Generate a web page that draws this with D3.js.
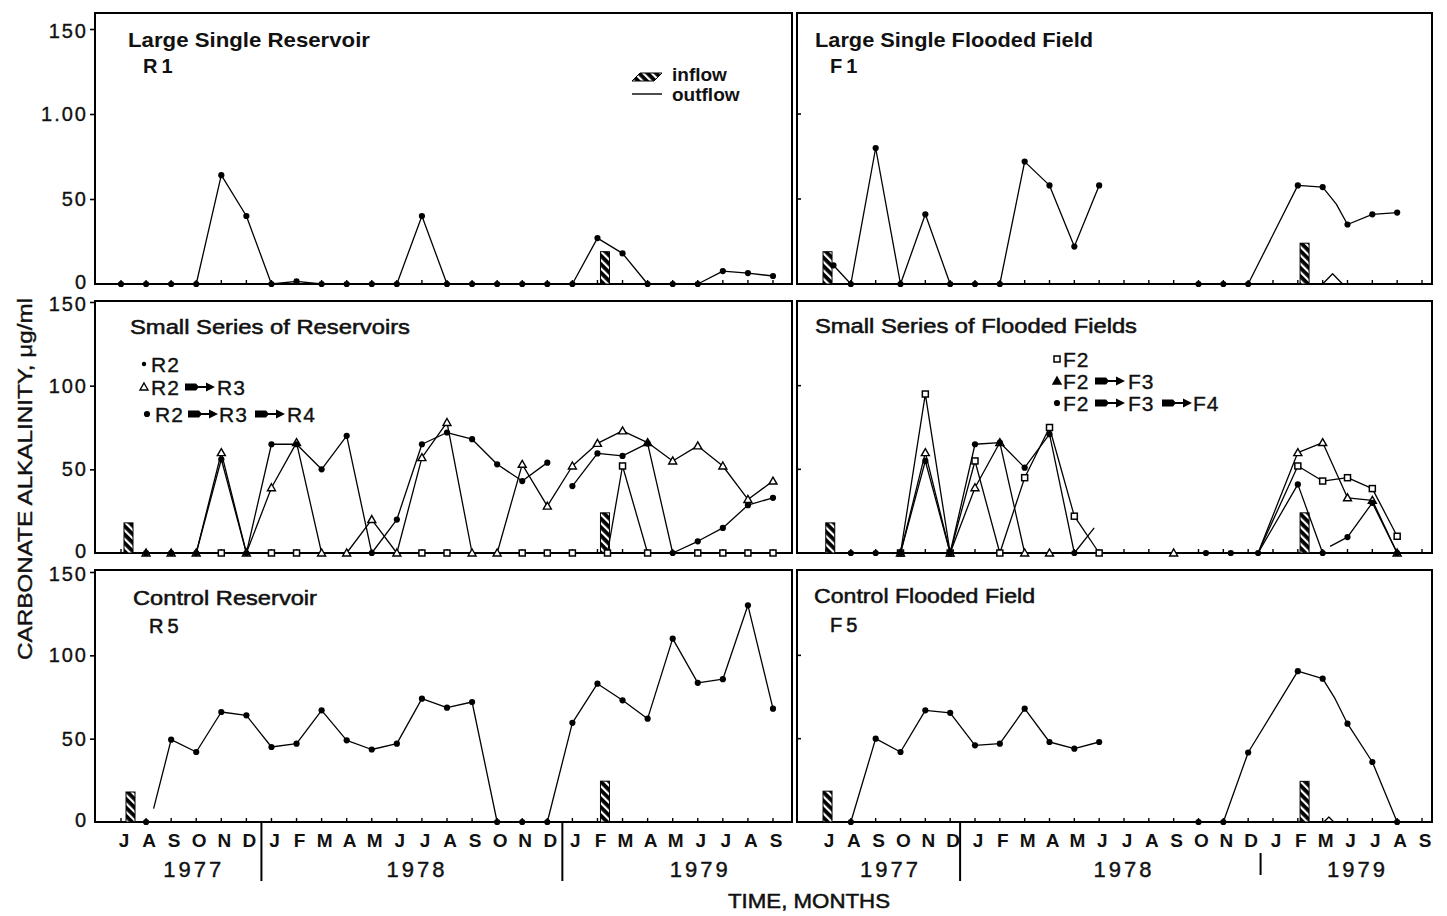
<!DOCTYPE html>
<html><head><meta charset="utf-8">
<script src="https://cdn.jsdelivr.net/npm/d3@7"></script>
<style>
html,body{margin:0;padding:0;background:#fff;}
svg{display:block;}
text{font-family:"Liberation Sans",Arial,sans-serif;fill:#111;}
</style></head><body>
<svg id="c" width="1447" height="916"></svg>
<script>
// ---------- DATA ----------
const monthsLeft  = ["J","A","S","O","N","D","J","F","M","A","M","J","J","A","S","O","N","D","J","F","M","A","M","J","J","A","S"];
const monthsRight = ["J","A","S","O","N","D","J","F","M","A","M","J","J","A","S","O","N","D","J","F","M","J","J","A","S"];
const years = ["1977","1978","1979"];
const yearsLeftAt  = [2.9, 11.8, 23.1];
const yearsRightAt = [2.6, 12.0, 21.4];
const yearBreaksLeft  = [5.6, 17.6];
const yearBreaksRight = [5.4, 17.5];
const yTicks = [0, 50, 100, 150];
const yTickLabelsTop = ["0", "50", "1.00", "150"];
const yTickLabels    = ["0", "50", "100", "150"];

// [month index, value, (0 = no marker)] ; null = break in line
const R1 = [[0,0],[1,0],[2,0],[3,0],[4,64],[5,40],[6,0],[7,1.5],[8,0],[9,0],[10,0],[11,0],[12,40],[13,0],[14,0],[15,0],[16,0],[17,0],[18,0],[19,27],[20,18],[21,0],[22,0],[23,0],[24,7.6],[25,6.4],[26,4.7]];
const F1 = [[0.3,11],[1,0],[2,80],[3,0],[4,41],[5,0],[6,0],[7,0],[8,72],[9,58],[10,22],[11,58],null,[15,0],[16,0],[17,0],[19,58],[20,57],[20.55,47,0],[21,35],[22,41],[23,42]];
const F1hump = [[20,0],[20.4,6],[20.8,0]];

const R2 = [[4,0],[6,0],[7,0],[12,0],[13,0],[16,0],[17,0],[18,0],[19.4,0],[20,52],[21,0],[23,0],[24,0],[25,0],[26,0]];
const R3 = [[1,0],[2,0],[3,0],[4,60],[5,0],[6,39],[7,66],[8,0],[9,0],[10,20],[11,0],[12,57],[13,78],[14,0],[15,0],[16,53],[17,28],[18,52],[19,65.5],[20,73],[21,66],[22,55],[23,64],[24,52],[25,32],[26,43]];
const R4 = [[1,0],[2,0],[3,0],[4,56],[5,0],[6,65],[7,65],[8,50],[9,70],[10,0],[11,20],[12,65],[13,72],[14,68],[15,53],[16,43],[17,54],null,[18,40],[19,59.5],[20,58],[21,65.5],[22,0],[23,7],[24,15],[25,28.6],[26,33]];

const F2 = [[3,0],[4,95],[5,0],[6,55],[7,0],[8,45],[9,75],[10,22],[11,0],null,[17.4,0,0],[19,52],[20,43],[21,45],[22,38.5],[23,10]];
const F3 = [[3,0],[4,60],[5,0],[6,39],[7,66],[8,0],[9,0],null,[14,0],null,[17.4,0,0],[19,60],[20,66],[21,33],[22,31.5],[23,0]];
const F4 = [[1,0],[2,0],[3,0],[4,55],[5,0],[6,65],[7,66],[8,51],[9,71],[10,0],[10.8,15,0],null,[15.3,0],[16.3,0],[17.4,0],[19,41],[20,0],null,[20.3,4,0],[21,9.5],[22,30],[23,0]];

const R5 = [[1,0],null,[1.3,8,0],[2,49.4],[3,42],[4,66],[5,64],[6,45],[7,47],[8,67],[9,49],[10,43.5],[11,47],[12,74],[13,68.6],[14,72],[15,0],[16,0],[17,0],[18,59.5],[19,83],[20,73],[21,62],[22,110],[23,83.5],[24,85.7],[25,130],[26,68]];
const F5 = [[1,0],[2,50],[3,42],[4,67],[5,65.5],[6,46],[7,47],[8,68],[9,48],[10,44],[11,48],null,[15,0],[16,0],[17,41.7],[19,90.5],[20,86],[20.5,74,0],[21,59],[22,36],[23,0]];
const F5hump = [[20.05,0],[20.25,3],[20.45,0]];

// inflow bars [month index, value]
const R1in  = [[19.08,19]];
const F1in  = [[-0.16,19],[19.05,24]];
const R234in = [[0.08,18],[19.08,24]];
const F234in = [[-0.05,18],[19.05,24]];
const R5in  = [[0.16,18],[19.08,24.5]];
const F5in  = [[-0.16,18.5],[19.05,24.4]];

// ---------- LAYOUT ----------
const svg = d3.select("#c");
const defs = svg.append("defs");
const pat = defs.append("pattern").attr("id","hatch").attr("patternUnits","userSpaceOnUse")
  .attr("width",6).attr("height",6).attr("patternTransform","rotate(-45)");
pat.append("rect").attr("width",6).attr("height",6).attr("fill","#000");
pat.append("rect").attr("width",2.2).attr("height",6).attr("fill","#fff");

const rows = [
  {zero:284, v150:29,  top:13},
  {zero:553, v150:302, top:301},
  {zero:822, v150:572, top:570}
];
const cols = [
  {left:95,  right:792,  r0:121, r1:773,  n:26, months:monthsLeft},
  {left:797, right:1432, r0:826, r1:1422, n:24, months:monthsRight}
];

const panels = [
  {row:0,col:0,title:"Large Single Reservoir",tx:128,ty:47,tw:242,bold:true,sub:"R1",sx:143,sy:73,
    series:[{d:R1,m:"dot"}], bars:R1in},
  {row:0,col:1,title:"Large Single Flooded Field",tx:815,ty:47,tw:278,bold:true,sub:"F1",sx:830,sy:73,
    series:[{d:F1,m:"dot"},{d:F1hump,m:"none"}], bars:F1in},
  {row:1,col:0,title:"Small Series of Reservoirs",tx:130,ty:334,tw:280,bold:false,
    series:[{d:R2,m:"sq"},{d:R3,m:"tri"},{d:R4,m:"dot"}], bars:R234in},
  {row:1,col:1,title:"Small Series of Flooded Fields",tx:815,ty:333,tw:322,bold:false,
    series:[{d:F2,m:"sq"},{d:F3,m:"tri"},{d:F4,m:"dot"}], bars:F234in},
  {row:2,col:0,title:"Control Reservoir",tx:133,ty:605,tw:184,bold:false,sub:"R5",sx:149,sy:633,
    series:[{d:R5,m:"dot"}], bars:R5in},
  {row:2,col:1,title:"Control Flooded Field",tx:814,ty:603,tw:221,bold:false,sub:"F5",sx:830,sy:632,
    series:[{d:F5,m:"dot"},{d:F5hump,m:"none"}], bars:F5in}
];

function drawMarker(g, type, cx, cy, fillTri){
  if(type==="dot"){
    g.append("circle").attr("cx",cx).attr("cy",cy).attr("r",3.1).attr("fill","#000");
  } else if(type==="smalldot"){
    g.append("circle").attr("cx",cx).attr("cy",cy).attr("r",2.2).attr("fill","#000");
  } else if(type==="sq"){
    g.append("rect").attr("x",cx-3).attr("y",cy-3).attr("width",6).attr("height",6)
      .attr("fill","#fff").attr("stroke","#000").attr("stroke-width",1.5);
  } else if(type==="tri"){
    const s=4;
    g.append("path").attr("d",`M${cx},${cy-s}L${cx+s},${cy+s*0.75}L${cx-s},${cy+s*0.75}Z`)
      .attr("fill", fillTri ? "#000" : "#fff").attr("stroke","#000").attr("stroke-width",1.4);
  }
}

panels.forEach(p=>{
  const R = rows[p.row], C = cols[p.col];
  const x = d3.scaleLinear().domain([0, C.n]).range([C.r0, C.r1]);
  const y = d3.scaleLinear().domain([0, 150]).range([R.zero, R.v150]);
  const g = svg.append("g");

  // frame
  g.append("rect").attr("x",C.left).attr("y",R.top).attr("width",C.right-C.left).attr("height",R.zero-R.top)
    .attr("fill","none").attr("stroke","#000").attr("stroke-width",2);

  // month ticks (inside, upward)
  g.selectAll(".mt").data(d3.range(0, C.n+1)).join("line")
    .attr("x1",d=>x(d)).attr("x2",d=>x(d)).attr("y1",R.zero).attr("y2",R.zero-4)
    .attr("stroke","#000").attr("stroke-width",1.4);

  // y axis
  if(p.col===0){
    const labels = p.row===0 ? yTickLabelsTop : yTickLabels;
    const ax = d3.axisLeft(y).tickValues(yTicks).tickSize(5).tickFormat((d,i)=>labels[i]);
    const ag = g.append("g").attr("transform",`translate(${C.left},0)`).call(ax);
    ag.select(".domain").remove();
    ag.selectAll(".tick line").attr("stroke","#000").attr("stroke-width",1.6)
      .attr("opacity",(d)=>d===0?0:1);
    ag.selectAll(".tick text").attr("font-size",20).attr("fill","#111").attr("x",-7)
      .attr("dy", d=> d===0 ? "0.22em" : (d===150 ? "0.42em" : "0.32em"))
      .attr("letter-spacing",2).attr("stroke","#111").attr("stroke-width",0.35)
      .attr("font-family","Liberation Sans, Arial, sans-serif");
  } else {
    g.selectAll(".yt").data(yTicks.filter(v=>v>0 && v<150)).join("line")
      .attr("x1",C.left).attr("x2",C.left+4).attr("y1",d=>y(d)).attr("y2",d=>y(d))
      .attr("stroke","#000").attr("stroke-width",1.6);
  }

  // inflow bars
  g.selectAll(".bar").data(p.bars).join("rect")
    .attr("x",d=>x(d[0])+1).attr("width",9)
    .attr("y",d=>y(d[1])).attr("height",d=>y(0)-y(d[1]))
    .attr("fill","url(#hatch)").attr("stroke","#000").attr("stroke-width",1);

  // series
  const line = d3.line().defined(d=>d!==null).x(d=>x(d[0])).y(d=>y(d[1]));
  p.series.forEach(s=>{
    g.append("path").attr("d",line(s.d)).attr("fill","none").attr("stroke","#000")
      .attr("stroke-width",1.3).attr("stroke-linejoin","round");
  });
  p.series.forEach(s=>{
    if(s.m==="none") return;
    s.d.filter(d=>d!==null && d[2]!==0).forEach(d=>drawMarker(g, s.m, x(d[0]), y(d[1]), false));
  });

  // titles
  g.append("text").attr("x",p.tx).attr("y",p.ty).text(p.title)
    .attr("font-size",21).attr("font-weight",p.bold?"bold":"normal")
    .attr("stroke",p.bold?"none":"#111").attr("stroke-width",p.bold?0:0.55)
    .attr("textLength",p.tw).attr("lengthAdjust","spacingAndGlyphs");
  if(p.sub){
    g.append("text").attr("x",p.sx).attr("y",p.sy).text(p.sub)
      .attr("font-size",20).attr("font-weight",p.bold?"bold":"normal")
      .attr("stroke",p.bold?"none":"#111").attr("stroke-width",p.bold?0:0.55)
      .attr("letter-spacing",4);
  }

  // bottom axis labels
  if(p.row===2){
    g.selectAll(".ml").data(C.months).join("text")
      .attr("x",(d,i)=>x(i)+3).attr("y",847).attr("text-anchor","middle")
      .attr("font-size",19).attr("font-weight","bold").text(d=>d);
    const yAt = p.col===0 ? yearsLeftAt : yearsRightAt;
    g.selectAll(".yl").data(years).join("text")
      .attr("x",(d,i)=>x(yAt[i])).attr("y",877).attr("text-anchor","middle")
      .attr("font-size",22).attr("letter-spacing",3).attr("stroke","#111").attr("stroke-width",0.4).text(d=>d);
    const br = p.col===0 ? yearBreaksLeft : yearBreaksRight;
    br.forEach((b,i)=>{
      const short = (p.col===1 && i===1);
      g.append("line").attr("x1",x(b)).attr("x2",x(b))
        .attr("y1", short ? 853 : R.zero).attr("y2", short ? 875 : 881)
        .attr("stroke","#000").attr("stroke-width",2);
    });
  }
});

// ---------- LEGENDS ----------
function arrow(g, x0, yc){
  g.append("path").attr("d",`M${x0},${yc-3.5}L${x0+11},${yc-3.5}L${x0+14},${yc}L${x0+11},${yc+3.5}L${x0},${yc+3.5}Z`).attr("fill","#000");
  g.append("line").attr("x1",x0+13).attr("x2",x0+24).attr("y1",yc).attr("y2",yc).attr("stroke","#000").attr("stroke-width",2);
  g.append("path").attr("d",`M${x0+21},${yc-4.5}L${x0+30},${yc}L${x0+21},${yc+4.5}Z`).attr("fill","#000");
}
function legendRow(g, marker, fillTri, mx, baseline, parts){
  drawMarker(g, marker, mx, baseline-8, fillTri);
  parts.forEach(pt=>{
    if(pt.a!==undefined) arrow(g, pt.a, baseline-8);
    else g.append("text").attr("x",pt.x).attr("y",baseline).text(pt.t)
      .attr("font-size",21).attr("letter-spacing",1).attr("stroke","#111").attr("stroke-width",0.35);
  });
}
const lg = svg.append("g");
// reservoirs
legendRow(lg,"smalldot",false,144,372,[{x:151,t:"R2"}]);
legendRow(lg,"tri",false,144,395,[{x:151,t:"R2"},{a:185},{x:217,t:"R3"}]);
legendRow(lg,"dot",false,147,422,[{x:155,t:"R2"},{a:188},{x:219,t:"R3"},{a:255},{x:287,t:"R4"}]);
// flooded fields
legendRow(lg,"sq",false,1057,367,[{x:1063,t:"F2"}]);
legendRow(lg,"tri",true,1057,389,[{x:1063,t:"F2"},{a:1095},{x:1128,t:"F3"}]);
legendRow(lg,"dot",false,1057,411,[{x:1063,t:"F2"},{a:1095},{x:1128,t:"F3"},{a:1162},{x:1193,t:"F4"}]);

// inflow / outflow legend
lg.append("path").attr("d","M632,81L640,73L662,73L654,81Z").attr("fill","url(#hatch)").attr("stroke","#000").attr("stroke-width",1);
lg.append("text").attr("x",672).attr("y",81).text("inflow").attr("font-size",19).attr("font-weight","bold");
lg.append("line").attr("x1",632).attr("x2",662).attr("y1",94).attr("y2",94).attr("stroke","#000").attr("stroke-width",1.4);
lg.append("text").attr("x",672).attr("y",101).text("outflow").attr("font-size",19).attr("font-weight","bold");

// axis titles
svg.append("text").attr("x",809).attr("y",908).attr("text-anchor","middle").text("TIME, MONTHS")
  .attr("font-size",20).attr("stroke","#111").attr("stroke-width",0.5).attr("textLength",162).attr("lengthAdjust","spacingAndGlyphs");
svg.append("text").attr("transform","translate(32,479) rotate(-90)").attr("text-anchor","middle")
  .text("CARBONATE ALKALINITY, μg/ml").attr("font-size",21).attr("stroke","#111").attr("stroke-width",0.4)
  .attr("textLength",362).attr("lengthAdjust","spacingAndGlyphs");
</script>
</body></html>
